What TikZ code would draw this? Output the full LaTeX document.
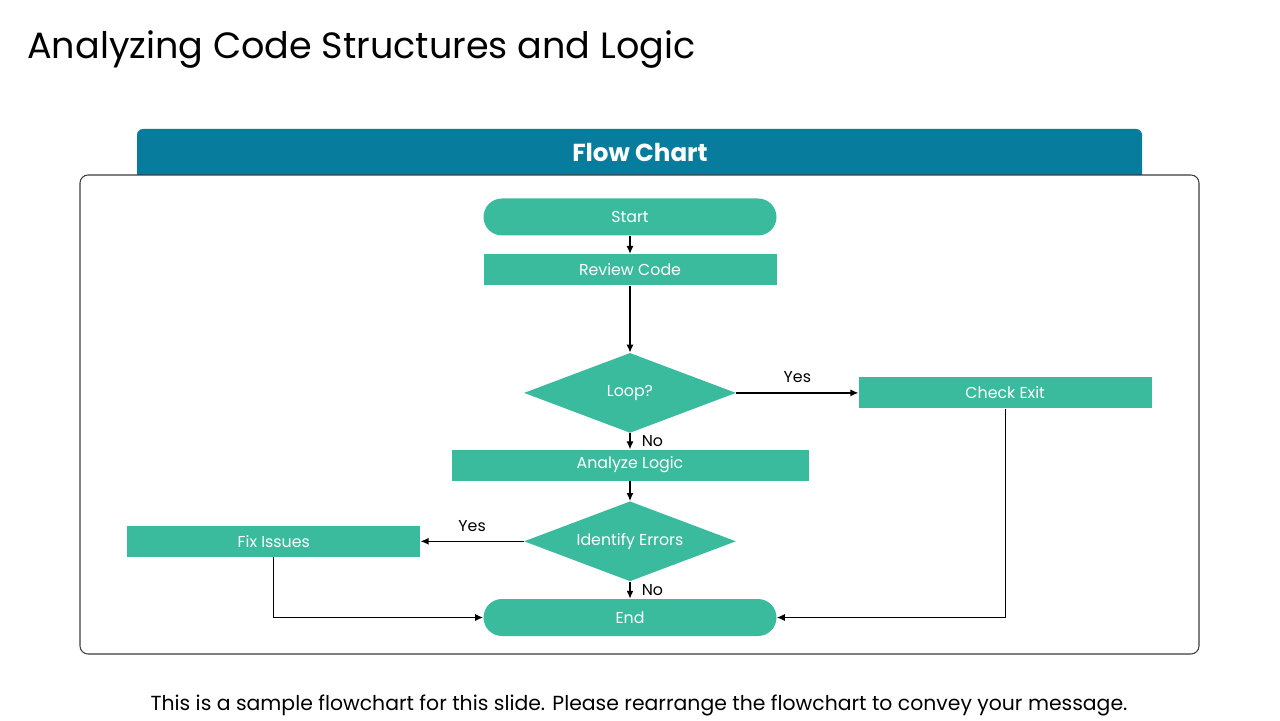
\documentclass[tikz,border=0pt]{standalone}
\usepackage{fontspec}
\setmainfont{Poppins}
\usepackage{tikz}
\usetikzlibrary{shapes.geometric, arrows.meta, positioning}
\definecolor{mygreen}{RGB}{59,187,157}
\definecolor{myblue}{RGB}{8,124,157}
\definecolor{mydark}{RGB}{0,0,0}
\definecolor{myframe}{RGB}{60,60,60}
\tikzset{
  pill/.style={rectangle, fill=mygreen, text=white, minimum width=5.86cm,
    minimum height=0.74cm, rounded corners=0.37cm, inner sep=0pt,
    font=\fontsize{9}{11}\selectfont},
  box/.style={rectangle, fill=mygreen, text=white, minimum width=5.86cm,
    minimum height=0.62cm, inner sep=0pt, font=\fontsize{9}{11}\selectfont},
  decision/.style={diamond, fill=mygreen, text=white, minimum width=4.24cm,
    minimum height=1.6cm, inner sep=0pt, aspect=2.65,
    font=\fontsize{9}{11}\selectfont},
  lbl/.style={font=\fontsize{9}{11}\selectfont, text=mydark},
  arrow/.style={-{Latex[length=4.5pt,width=4pt]}, line width=0.7pt, color=mydark},
  panel/.style={draw=myframe, line width=0.6pt, rounded corners=0.16cm}
}
\begin{document}
\begin{tikzpicture}[node distance=0.36cm and 2.44cm]
  \useasboundingbox (0,0) rectangle (25.6,14.4);
  \node[anchor=base west, inner sep=0pt, font=\fontsize{20.8}{24}\selectfont] (ttl) at (0.54,13.22)
    {Analyzing Code Structures and Logic};

  % Panel and header
  \fill[myblue] (2.74,10.9) [rounded corners=0.12cm] -- (2.74,11.82) -- (22.84,11.82)
    [sharp corners] -- (22.84,10.9) -- cycle;
  \draw[panel] (1.6,1.32) rectangle (23.98,10.9);
  \node[text=white, font=\fontsize{14}{16}\selectfont\bfseries] (hdr) at (12.8,11.34) {Flow Chart};

  \node[pill] (start) at (12.6,10.06) {Start};
  \node[box, below=0.36cm of start] (review) {Review Code};
  \node[decision, below=1.34cm of review] (loop) {Loop?};
  \node[box, right=2.44cm of loop] (exit) {Check Exit};
  \node[box, minimum width=7.14cm, below=0.32cm of loop] (analyze) {Analyze Logic};
  \node[decision, below=0.4cm of analyze] (ident) {Identify Errors};
  \node[box, left=2.06cm of ident] (fix) {Fix Issues};
  \node[pill, below=0.34cm of ident] (end) {End};

  \node[anchor=base, inner sep=0pt, font=\fontsize{11.6}{13}\selectfont] (foot) at (12.78,0.2)
    {This is a sample flowchart for this slide. Please rearrange the flowchart to convey your message.};

  \draw[arrow] (start) -- (review);
  \draw[arrow] (review) -- (loop);
  \draw[arrow] (loop) -- node[lbl, above, yshift=2pt] {Yes} (exit);
  \draw[arrow] (loop) -- node[lbl, right, xshift=3pt] {No} (analyze);
  \draw[arrow] (analyze) -- (ident);
  \draw[arrow] (ident) -- node[lbl, above, yshift=2pt] {Yes} (fix);
  \draw[arrow] (ident) -- node[lbl, right, xshift=3pt] {No} (end);
  % Return paths to End
  \draw[arrow] (fix.south) |- (end.west);
  \draw[arrow] (exit.south) |- (end.east);
\end{tikzpicture}
\end{document}
